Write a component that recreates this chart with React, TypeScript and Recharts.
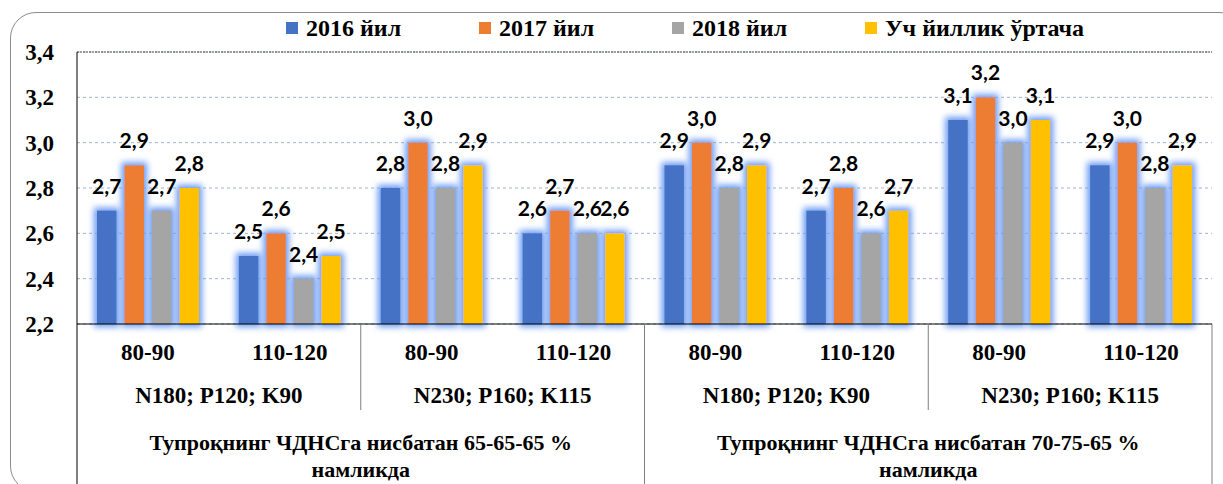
import React from "react";
import { BarChart, Bar, XAxis, YAxis, CartesianGrid, Legend, LabelList, ReferenceLine } from "recharts";

const doses = ["80-90", "110-120", "80-90", "110-120", "80-90", "110-120", "80-90", "110-120"];
const fertilizers = ["N180; P120; K90", "N230; P160; K115", "N180; P120; K90", "N230; P160; K115"];
const moisture = [
    ["Тупроқнинг ЧДНСга нисбатан 65-65-65 %", "намликда"],
    ["Тупроқнинг ЧДНСга нисбатан 70-75-65 %", "намликда"],
];

const y2016 = [2.7, 2.5, 2.8, 2.6, 2.9, 2.7, 3.1, 2.9];
const y2017 = [2.9, 2.6, 3.0, 2.7, 3.0, 2.8, 3.2, 3.0];
const y2018 = [2.7, 2.4, 2.8, 2.6, 2.8, 2.6, 3.0, 2.8];
const avg3 = [2.8, 2.5, 2.9, 2.6, 2.9, 2.7, 3.1, 2.9];

const yTicks = [2.2, 2.4, 2.6, 2.8, 3.0, 3.2, 3.4];

const series = [
    { key: "y2016", name: "2016 йил", color: "#4472C4" },
    { key: "y2017", name: "2017 йил", color: "#ED7D31" },
    { key: "y2018", name: "2018 йил", color: "#A5A5A5" },
    { key: "avg3", name: "Уч йиллик ўртача", color: "#FFC000" },
];

const data = doses.map((d, i) => ({
    dose: d,
    y2016: y2016[i],
    y2017: y2017[i],
    y2018: y2018[i],
    avg3: avg3[i],
}));

const W = 1223;
const H = 484;
const margin = { top: 52, right: 11, left: 10, bottom: 0 };
const Y_W = 67;
const X_H = 160;
const BAND = (W - margin.left - margin.right - Y_W) / doses.length;

const SERIF = "'Liberation Serif', Tinos, 'Times New Roman', 'DejaVu Serif', serif";
const serif = { fontFamily: SERIF, fontWeight: 700, fill: "#000" };
const fmt = (v: number) => v.toFixed(1).replace(".", ",");

function CategoryTick(props: any) {
    const { x, y, payload, index } = props;
    const half = BAND / 2;
    return (
        <g>
            <text x={x} y={y + 36} textAnchor="middle" fontSize={23} fontFamily={SERIF} fontWeight={700} fill="#000">{payload.value}</text>
            {index % 2 === 0 && (
                <text x={x + half} y={y + 79} textAnchor="middle" fontSize={23} fontFamily={SERIF} fontWeight={700} fill="#000">
                    {fertilizers[index / 2]}
                </text>
            )}
            {index % 2 === 0 && index % 4 !== 0 && (
                <line x1={x - half} x2={x - half} y1={y} y2={y + 86} stroke="#7f7f7f" />
            )}
            {index % 4 === 0 && (
                <>
                    <line x1={x - half} x2={x - half} y1={y} y2={y + X_H}
                        stroke={index === 0 ? "#000" : "#7f7f7f"} />
                    {moisture[index / 4].map((line, k) => (
                        <text key={k} x={x + 1.5 * BAND} y={y + 126 + k * 27} textAnchor="middle" fontSize={22}
                            fontFamily={SERIF} fontWeight={700} fill="#000">
                            {line}
                        </text>
                    ))}
                </>
            )}
            {index === doses.length - 1 && (
                <line x1={x + half} x2={x + half} y1={y} y2={y + X_H} stroke="#7f7f7f" />
            )}
        </g>
    );
}

function GlowBar(props: any) {
    const { x, y, width, height, fill } = props;
    if (!height) return null;
    return <rect x={x} y={y} width={width} height={height} fill={fill} filter="url(#barGlow)" />;
}

function LegendContent() {
    return (
        <div style={{ display: "flex", fontFamily: SERIF, fontWeight: 700, fontSize: 24, lineHeight: "28px", color: "#000", whiteSpace: "nowrap" }}>
            {series.map((s, i) => (
                <div key={s.key} style={{ display: "flex", alignItems: "center", width: i < series.length - 1 ? 193 : "auto" }}>
                    <span style={{ display: "inline-block", width: 12, height: 12, background: s.color, marginRight: 8 }} />
                    {s.name}
                </div>
            ))}
        </div>
    );
}

export default function App() {
    return (
        <div style={{ position: "absolute", top: 0, left: 0, width: W, height: H, overflow: "hidden", background: "#fff" }}>
            <div style={{
                position: "absolute", left: 10, top: 12, width: 1236, height: 480,
                border: "1.5px solid #8c8c8c", borderRadius: 26, boxSizing: "border-box",
            }} />
            <BarChart width={W} height={H} data={data} margin={margin} barSize={19.5} barGap={8}>
                <defs>
                    <filter id="barGlow" x="-100%" y="-50%" width="300%" height="200%">
                        <feMorphology in="SourceAlpha" operator="dilate" radius="3" result="grown" />
                        <feGaussianBlur in="grown" stdDeviation="3.2" result="blur" />
                        <feFlood floodColor="#6a9af2" floodOpacity="1" />
                        <feComposite in2="blur" operator="in" result="glow" />
                        <feMerge>
                            <feMergeNode in="glow" />
                            <feMergeNode in="SourceGraphic" />
                        </feMerge>
                    </filter>
                </defs>
                <CartesianGrid vertical={false} stroke="#a3b3cf" strokeDasharray="3 3" />
                <XAxis dataKey="dose" interval={0} height={X_H} tickSize={0} tickMargin={0}
                    axisLine={{ stroke: "#000" }} tickLine={false} tick={<CategoryTick />} />
                <YAxis domain={[2.2, 3.4]} ticks={yTicks} width={Y_W} tickSize={0} tickMargin={23}
                    tickFormatter={fmt} axisLine={{ stroke: "#000" }} tickLine={false}
                    tick={{ ...serif, fontSize: 23 }} />
                <YAxis yAxisId="right" orientation="right" width={0} domain={[2.2, 3.4]}
                    tick={false} tickLine={false} axisLine={{ stroke: "#7f7f7f" }} />
                <ReferenceLine y={3.4} stroke="#444" strokeDasharray="2 1" />
                <Legend verticalAlign="middle" align="center" content={<LegendContent />}
                    wrapperStyle={{ top: 14, left: 286, width: "auto", height: 28 }} />
                {series.map((s) => (
                    <Bar key={s.key} dataKey={s.key} name={s.name} fill={s.color} shape={<GlowBar />} isAnimationActive={false}>
                        <LabelList dataKey={s.key} position="top" offset={17} formatter={fmt as any}
                            fill="#000" fontSize={21} fontWeight={700} fontFamily="Lato, Carlito, sans-serif" />
                    </Bar>
                ))}
            </BarChart>
        </div>
    );
}
